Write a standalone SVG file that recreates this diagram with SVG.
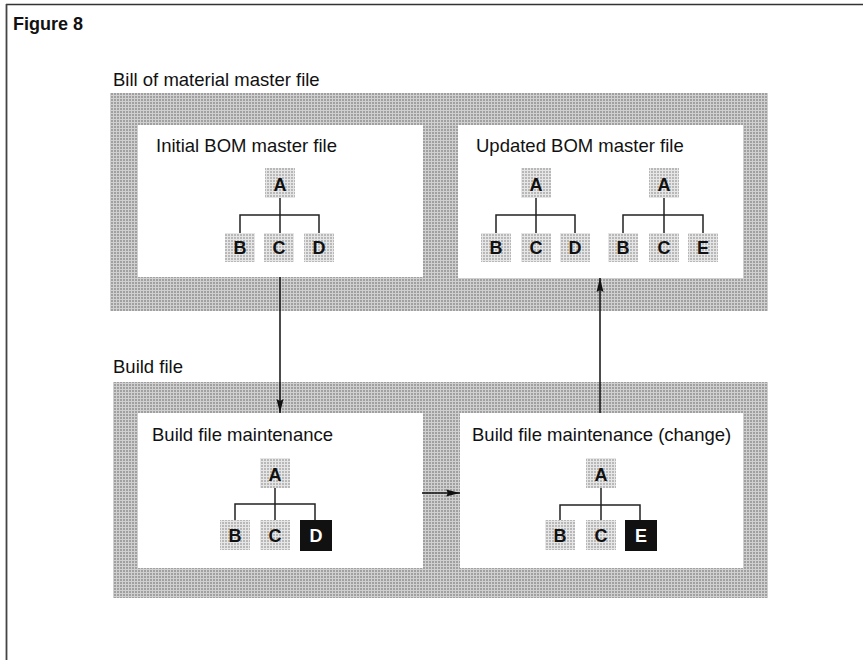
<svg xmlns="http://www.w3.org/2000/svg" width="863" height="660" viewBox="0 0 863 660">
<defs>
<pattern id="ht" width="3" height="3" patternUnits="userSpaceOnUse">
<rect width="3" height="3" fill="#d0d0d0"/>
<rect width="2" height="2" fill="#a0a0a0"/>
</pattern>
<pattern id="htl" width="3" height="3" patternUnits="userSpaceOnUse">
<rect width="3" height="3" fill="#e6e6e6"/>
<rect width="2" height="2" fill="#b8b8b8"/>
</pattern>
<marker id="ah" viewBox="0 0 14 8" refX="14" refY="4" markerWidth="14" markerHeight="8" markerUnits="userSpaceOnUse" orient="auto">
<path d="M0,0.5 L14,4 L0,7.5 L2,4 Z" fill="#111"/>
</marker>
</defs>
<style>
.t{font-family:"Liberation Sans",Arial,sans-serif;fill:#111}
.lbl{font-size:18.5px}
.nd{fill:url(#htl)}
.ndk{fill:#111}
.nl{font-family:"Liberation Sans",Arial,sans-serif;font-size:18px;font-weight:bold;fill:#111;text-anchor:middle}
.nlw{font-family:"Liberation Sans",Arial,sans-serif;font-size:18px;font-weight:bold;fill:#fff;text-anchor:middle}
.tree{stroke:#222;stroke-width:1.5;fill:none}
.reg{fill:url(#ht)}
.box{fill:#fff}
.conn{stroke:#111;stroke-width:1.5;fill:none}
</style>
<rect width="863" height="660" fill="#fff"/>
<g id="frame">
<line x1="6" y1="4.5" x2="863" y2="4.5" stroke="#333" stroke-width="1.6"/>
<line x1="6.5" y1="4" x2="6.5" y2="660" stroke="#444" stroke-width="1.8"/>
<text x="13" y="30" class="t" style="font-size:18px;font-weight:bold">Figure 8</text>
</g>
<g id="bom-region">
<text x="113" y="86" class="t lbl">Bill of material master file</text>
<rect x="110" y="93" width="658" height="218" class="reg"/>
</g>
<g id="build-region">
<text x="113" y="373" class="t lbl">Build file</text>
<rect x="113" y="382" width="655" height="216" class="reg"/>
</g>
<g id="initial-bom">
<rect x="138" y="125" width="285" height="152" class="box"/>
<text x="156" y="152" class="t lbl">Initial BOM master file</text>
<path class="tree" d="M280,198 V233 M240,233 V215 H319 V233"/>
<rect x="265" y="168" width="30" height="30" class="nd"/><text x="280" y="191" class="nl">A</text>
<rect x="225" y="233" width="30" height="29" class="nd"/><text x="240" y="254" class="nl">B</text>
<rect x="264" y="233" width="30" height="29" class="nd"/><text x="279" y="254" class="nl">C</text>
<rect x="304" y="233" width="30" height="29" class="nd"/><text x="319" y="254" class="nl">D</text>
</g>
<g id="updated-bom">
<rect x="458" y="125" width="285" height="153" class="box"/>
<text x="476" y="152" class="t lbl">Updated BOM master file</text>
<path class="tree" d="M536,198 V233 M496,233 V215 H575 V233"/>
<rect x="521" y="168" width="30" height="30" class="nd"/><text x="536" y="191" class="nl">A</text>
<rect x="481" y="233" width="30" height="29" class="nd"/><text x="496" y="254" class="nl">B</text>
<rect x="521" y="233" width="30" height="29" class="nd"/><text x="536" y="254" class="nl">C</text>
<rect x="560" y="233" width="30" height="29" class="nd"/><text x="575" y="254" class="nl">D</text>
<path class="tree" d="M664,198 V233 M623,233 V215 H703 V233"/>
<rect x="649" y="168" width="30" height="30" class="nd"/><text x="664" y="191" class="nl">A</text>
<rect x="608" y="233" width="30" height="29" class="nd"/><text x="623" y="254" class="nl">B</text>
<rect x="649" y="233" width="30" height="29" class="nd"/><text x="664" y="254" class="nl">C</text>
<rect x="688" y="233" width="30" height="29" class="nd"/><text x="703" y="254" class="nl">E</text>
</g>
<g id="build-maint">
<rect x="138" y="413" width="285" height="155" class="box"/>
<text x="152" y="441" class="t lbl">Build file maintenance</text>
<path class="tree" d="M275,488 V520 M235,520 V504 H315 V520"/>
<rect x="260" y="458" width="30" height="30" class="nd"/><text x="275" y="481" class="nl">A</text>
<rect x="220" y="520" width="30" height="30" class="nd"/><text x="235" y="542" class="nl">B</text>
<rect x="260" y="520" width="30" height="30" class="nd"/><text x="275" y="542" class="nl">C</text>
<rect x="300" y="520" width="32" height="31" class="ndk"/><text x="316" y="542" class="nlw">D</text>
</g>
<g id="build-maint-change">
<rect x="460" y="413" width="283" height="155" class="box"/>
<text x="472" y="441" class="t lbl">Build file maintenance (change)</text>
<path class="tree" d="M601,488 V520 M560,520 V505 H640 V520"/>
<rect x="586" y="458" width="30" height="30" class="nd"/><text x="601" y="481" class="nl">A</text>
<rect x="545" y="520" width="30" height="30" class="nd"/><text x="560" y="542" class="nl">B</text>
<rect x="586" y="520" width="30" height="30" class="nd"/><text x="601" y="542" class="nl">C</text>
<rect x="625" y="520" width="32" height="31" class="ndk"/><text x="641" y="542" class="nlw">E</text>
</g>
<g id="connectors">
<line x1="280" y1="277" x2="280" y2="413" class="conn" marker-end="url(#ah)"/>
<line x1="600" y1="413" x2="600" y2="278" class="conn" marker-end="url(#ah)"/>
<line x1="422" y1="493" x2="460" y2="493" class="conn" marker-end="url(#ah)"/>
</g>
</svg>
